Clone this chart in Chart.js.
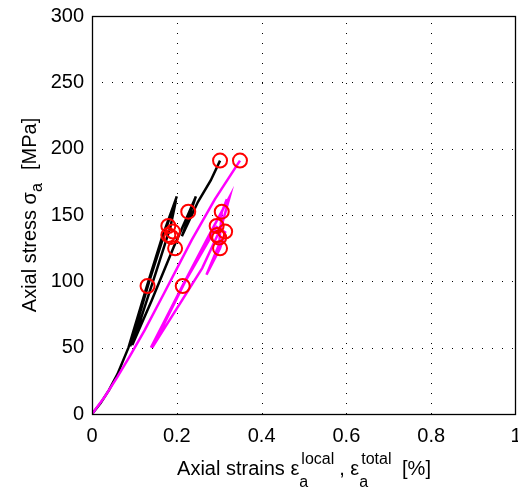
<!DOCTYPE html>
<html>
<head>
<meta charset="utf-8">
<script src="https://cdn.jsdelivr.net/npm/chart.js@4.4.1/dist/chart.umd.min.js"></script>
<style>
  html, body { margin: 0; padding: 0; background: #fff; }
  #wrap { width: 518px; height: 494px; }
</style>
</head>
<body>
<div id="wrap"><canvas id="c" width="518" height="494"></canvas></div>
<script>
// Axis ticks
const xTicks = [0, 0.2, 0.4, 0.6, 0.8, 1];
const yTicks = [0, 50, 100, 150, 200, 250, 300];

// Local axial strain (black) path [%] and stress [MPa]
const localStrain = [0, 0.02, 0.04, 0.06, 0.086, 0.13, 0.165, 0.200, 0.175, 0.135, 0.090, 0.130, 0.170, 0.198, 0.185, 0.150, 0.095, 0.140, 0.193, 0.229, 0.245, 0.225, 0.212, 0.250, 0.280, 0.302];
const localStress = [0, 8, 18, 30, 50, 97, 133, 164, 140, 100, 51, 95, 136, 161, 141, 106, 52, 85, 126, 152, 164, 145, 134, 160, 176, 191];

// Total axial strain (magenta) path [%] and stress [MPa]; null = break
const totalStrain = [0, 0.03, 0.06, 0.09, 0.124, 0.17, 0.235, 0.29, 0.349, null, 0.139, 0.214, 0.27, 0.325, 0.305, 0.26, 0.142, 0.22, 0.294, 0.314, 0.302, 0.27, 0.30, 0.306, 0.318];
const totalStress = [0, 13, 28, 44, 63, 91, 131, 162, 191, null, 50, 97, 131, 164, 141, 110, 50, 100, 141, 137, 125, 105, 128, 152, 162];

// Marked points (red circles)
const markerStrain = [0.131, 0.180, 0.191, 0.180, 0.187, 0.196, 0.227, 0.302, 0.214, 0.294, 0.314, 0.295, 0.300, 0.302, 0.306, 0.349];
const markerStress = [96.5, 141.7, 137.5, 134.9, 133.5, 124.9, 152.5, 191, 96.5, 141.7, 137.5, 134.9, 133.0, 124.9, 152.5, 191];

const toXY = (xs, ys) => xs.map((x, i) => ({ x: x, y: ys[i] }));

const FONT = "'Liberation Sans', Arial, Helvetica, sans-serif";

const framePlugin = {
  id: 'frame',
  beforeDatasetsDraw(chart) {
    const { ctx, chartArea: a, scales } = chart;
    ctx.save();
    ctx.strokeStyle = '#000';
    ctx.lineWidth = 1;
    ctx.setLineDash([1, 9]);
    scales.x.ticks.forEach(t => {
      const px = Math.round(scales.x.getPixelForValue(t.value)) + 0.5;
      if (t.value <= 0 || t.value >= 1) return;
      ctx.beginPath(); ctx.moveTo(px, a.bottom); ctx.lineTo(px, a.top); ctx.stroke();
    });
    scales.y.ticks.forEach(t => {
      const py = Math.round(scales.y.getPixelForValue(t.value)) + 0.5;
      if (t.value <= 0 || t.value >= 300) return;
      ctx.beginPath(); ctx.moveTo(a.left, py); ctx.lineTo(a.right, py); ctx.stroke();
    });
    ctx.restore();
  },
  afterDatasetsDraw(chart) {
    const { ctx, chartArea: a } = chart;
    ctx.save();
    ctx.strokeStyle = '#000';
    ctx.lineWidth = 1.3;
    ctx.setLineDash([]);
    ctx.strokeRect(Math.round(a.left) + 0.5, Math.round(a.top) + 0.5, Math.round(a.right - a.left) - 1, Math.round(a.bottom - a.top));
    ctx.restore();
  },
  afterDraw(chart) {
    const { ctx, chartArea: a, scales } = chart;
    const big = 20, small = 16;
    ctx.save();
    ctx.fillStyle = '#000';
    // x tick labels, placed through the x scale
    ctx.font = '20px ' + FONT;
    ctx.textAlign = 'center';
    ctx.textBaseline = 'middle';
    xTicks.forEach(v => {
      ctx.fillText(String(v), scales.x.getPixelForValue(v), a.bottom + 22);
    });
    // parts: [text, mode]; a 'sub' directly followed by 'sup' is stacked
    function measure(parts) {
      let w = 0, i = 0;
      while (i < parts.length) {
        const p = parts[i];
        if (p[1] === 'sub' && parts[i + 1] && parts[i + 1][1] === 'sup') {
          ctx.font = small + 'px ' + FONT;
          w += Math.max(ctx.measureText(p[0]).width, ctx.measureText(parts[i + 1][0]).width + 2) + 5;
          i += 2; continue;
        }
        ctx.font = (p[1] === 'n' ? big : small) + 'px ' + FONT;
        w += ctx.measureText(p[0]).width + (p[1] === 'n' ? 0 : 2);
        i++;
      }
      return w;
    }
    function draw(parts, x0, y0) {
      let x = x0, i = 0;
      while (i < parts.length) {
        const p = parts[i];
        if (p[1] === 'sub' && parts[i + 1] && parts[i + 1][1] === 'sup') {
          ctx.font = small + 'px ' + FONT;
          ctx.fillText(p[0], x, y0 + 12);
          ctx.fillText(parts[i + 1][0], x + 2, y0 - 11);
          x += Math.max(ctx.measureText(p[0]).width, ctx.measureText(parts[i + 1][0]).width + 2) + 5;
          i += 2; continue;
        }
        if (p[1] === 'n') {
          ctx.font = big + 'px ' + FONT;
          ctx.fillText(p[0], x, y0);
          x += ctx.measureText(p[0]).width;
        } else {
          ctx.font = small + 'px ' + FONT;
          ctx.fillText(p[0], x, y0 + (p[1] === 'sub' ? 6 : -11));
          x += ctx.measureText(p[0]).width + 2;
        }
        i++;
      }
    }
    ctx.textBaseline = 'alphabetic';
    ctx.textAlign = 'left';
    const xParts = [['Axial strains \u03b5', 'n'], ['a', 'sub'], ['local', 'sup'], [', \u03b5', 'n'], ['a', 'sub'], ['total', 'sup'], [' [%]', 'n']];
    const xw = measure(xParts);
    draw(xParts, (a.left + a.right) / 2 - xw / 2, 475);
    const yParts = [['Axial stress \u03c3', 'n'], ['a', 'sub'], ['  [MPa]', 'n']];
    const yw = measure(yParts);
    ctx.translate(36, (a.top + a.bottom) / 2);
    ctx.rotate(-Math.PI / 2);
    draw(yParts, -yw / 2, 0);
    ctx.restore();
  }
};

new Chart(document.getElementById('c'), {
  type: 'scatter',
  data: {
    datasets: [
      {
        label: 'markers',
        data: toXY(markerStrain, markerStress),
        showLine: false,
        pointStyle: 'circle',
        pointRadius: 7,
        pointBorderWidth: 2,
        pointBorderColor: '#ff0000',
        pointBackgroundColor: 'rgba(0,0,0,0)',
        order: 0
      },
      {
        label: 'total',
        data: toXY(totalStrain, totalStress),
        showLine: true,
        spanGaps: false,
        borderColor: '#ff00ff',
        borderWidth: 2.5,
        pointRadius: 0,
        tension: 0,
        order: 1
      },
      {
        label: 'local',
        data: toXY(localStrain, localStress),
        showLine: true,
        borderColor: '#000000',
        borderWidth: 2.5,
        pointRadius: 0,
        tension: 0,
        order: 2
      }
    ]
  },
  options: {
    responsive: false,
    animation: false,
    devicePixelRatio: 1,
    layout: { autoPadding: false, padding: { left: 0, top: 16, right: 2, bottom: 0 } },
    plugins: { legend: { display: false }, tooltip: { enabled: false } },
    scales: {
      x: {
        type: 'linear',
        min: 0, max: 1,
        afterBuildTicks: s => { s.ticks = xTicks.map(v => ({ value: v })); },
        afterFit: s => { s.height = 80; },
        grid: { display: false, drawTicks: false },
        border: { display: false },
        ticks: { display: false }
      },
      y: {
        type: 'linear',
        min: 0, max: 300,
        afterBuildTicks: s => { s.ticks = yTicks.map(v => ({ value: v })); },
        afterFit: s => { s.width = 92; s.paddingTop = 0; s.paddingBottom = 0; },
        grid: { display: false, drawTicks: false },
        border: { display: false },
        ticks: { color: '#000', font: { size: 20, family: FONT }, padding: 8,
                  callback: v => String(v) }
      }
    }
  },
  plugins: [framePlugin]
});
</script>
</body>
</html>
